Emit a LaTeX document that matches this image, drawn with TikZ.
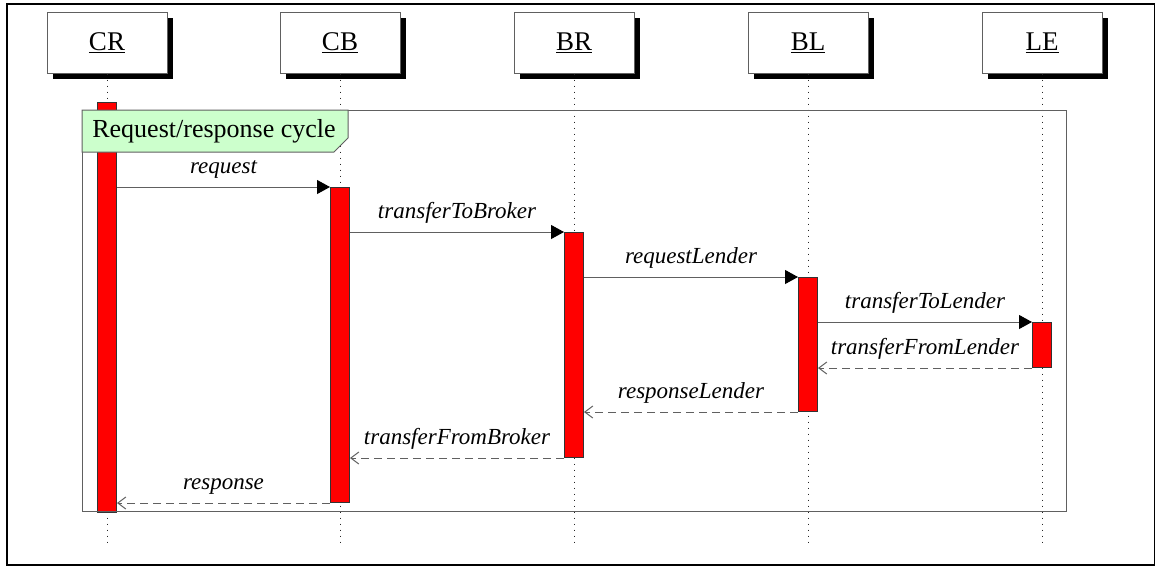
\documentclass[tikz,border=0pt]{standalone}
\usepackage{fontspec}
\setmainfont{Liberation Serif}
\usetikzlibrary{arrows.meta,shadows}
\definecolor{framegreen}{HTML}{CCFFCC}
\definecolor{edge}{HTML}{606060}

\begin{document}
\begin{tikzpicture}[x=1pt,y=-1pt,
  head/.style={draw=edge, line width=1pt, fill=white,
    minimum width=120pt, minimum height=61pt, inner sep=0pt,
    font=\fontsize{27}{30}\selectfont,
    drop shadow={shadow xshift=6pt, shadow yshift=-6pt, fill=black, opacity=1}},
  act/.style={draw=black!80, line width=1pt, fill=red,
    minimum width=19pt, inner sep=0pt, anchor=north},
  life/.style={black!85, line width=1pt, dash pattern=on 1pt off 5pt},
  sync/.style={draw=edge, line width=1pt,
    -{Triangle[length=13pt,width=14pt,black]}},
  reply/.style={draw=edge, line width=1pt, dash pattern=on 8pt off 5pt,
    -{Straight Barb[length=8pt,width=12pt]}},
  msg/.style={midway, above=8pt, inner sep=0pt, text height=16pt, text depth=5pt,
    font=\fontsize{23}{27}\selectfont\itshape},
  framebox/.style={draw=edge, line width=1pt, inner sep=0pt, anchor=north west}
]
\useasboundingbox (0,0) rectangle (1155,566);

% outer border
\draw[line width=2pt] (7,4) rectangle (1155,565);

% lifeline heads
\node[head] (hCR) at (107,42.5) {\underline{CR}};
\node[head] (hCB) at (340,42.5) {\underline{CB}};
\node[head] (hBR) at (574,42.5) {\underline{BR}};
\node[head] (hBL) at (808,42.5) {\underline{BL}};
\node[head] (hLE) at (1042,42.5) {\underline{LE}};

% lifeline ends
\coordinate (eCR) at (107,542);
\coordinate (eCB) at (340,542);
\coordinate (eBR) at (574,542);
\coordinate (eBL) at (808,542);
\coordinate (eLE) at (1042,542);

% dotted lifelines
\draw[life] (hCR.south) -- (eCR);
\draw[life] (hCB.south) -- (eCB);
\draw[life] (hBR.south) -- (eBR);
\draw[life] (hBL.south) -- (eBL);
\draw[life] (hLE.south) -- (eLE);

% activation of the client
\node[act, minimum height=410pt] (aCR) at (107,102) {};

% combined fragment
\node[framebox, minimum width=984pt, minimum height=401pt] (frame) at (82,110) {};
\draw[draw=edge, line width=1pt, fill=framegreen]
  (frame.north west) -- ++(266,0) -- ++(0,28) -- ++(-14,14) -- ++(-252,0) -- cycle;
\node[font=\fontsize{26}{30}\selectfont, inner sep=0pt] (flabel) at (214,131) {Request/response cycle};

% remaining activations
\node[act, minimum height=315pt] (aCB) at (340,187) {};
\node[act, minimum height=225pt] (aBR) at (574,232) {};
\node[act, minimum height=134pt] (aBL) at (808,277) {};
\node[act, minimum height=45pt]  (aLE) at (1042,322) {};

% calls
\draw[sync] (aCR.east |- aCB.north) -- node[msg]{request} (aCB.north west);
\draw[sync] (aCB.east |- aBR.north) -- node[msg]{transferToBroker} (aBR.north west);
\draw[sync] (aBR.east |- aBL.north) -- node[msg]{requestLender} (aBL.north west);
\draw[sync] (aBL.east |- aLE.north) -- node[msg]{transferToLender} (aLE.north west);

% replies
\draw[reply] (aLE.south west) -- node[msg]{transferFromLender} (aBL.east |- aLE.south);
\draw[reply] (aBL.south west) -- node[msg]{responseLender} (aBR.east |- aBL.south);
\draw[reply] (aBR.south west) -- node[msg]{transferFromBroker} (aCB.east |- aBR.south);
\draw[reply] (aCB.south west) -- node[msg]{response} (aCR.east |- aCB.south);
\end{tikzpicture}
\end{document}
